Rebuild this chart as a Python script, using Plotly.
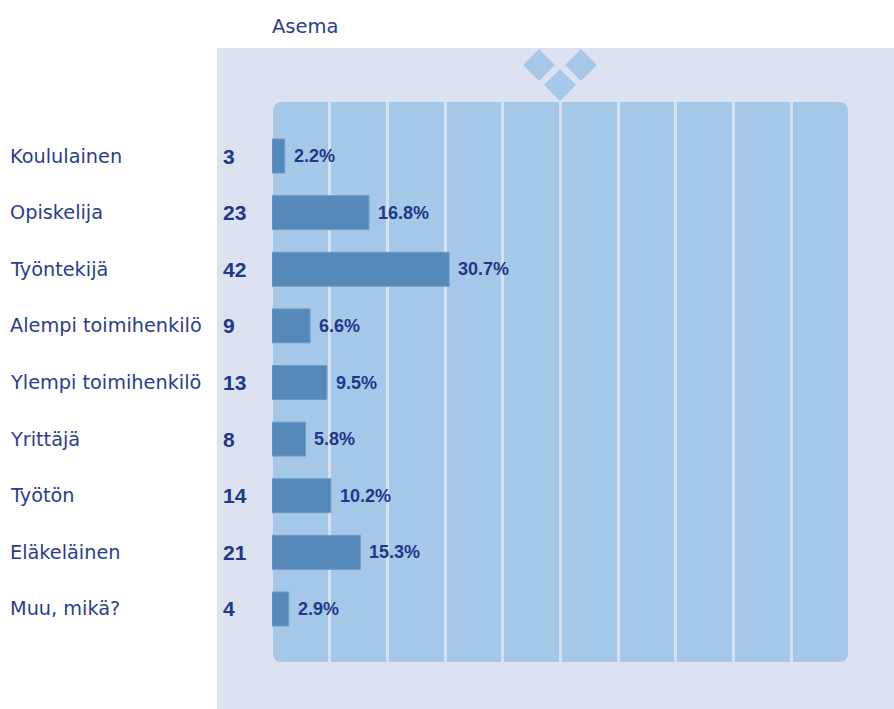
import plotly.graph_objects as go

title = "Asema"
categories = ["Koululainen", "Opiskelija", "Työntekijä", "Alempi toimihenkilö",
              "Ylempi toimihenkilö", "Yrittäjä", "Työtön", "Eläkeläinen", "Muu, mikä?"]
counts = [3, 23, 42, 9, 13, 8, 14, 21, 4]
percents = [2.2, 16.8, 30.7, 6.6, 9.5, 5.8, 10.2, 15.3, 2.9]

W, H = 894, 709
L, R, T, B = 272, 45, 102, 47
PW, PH = W - L - R, H - T - B

def px(x):
    return (x - L) / PW

def py(y):
    return (H - B - y) / PH

TEXT = "#2B3D8E"
BOLD = "#22378A"
BAR = "#5489BA"
INNER = "#A5C8E8"
OUTER = "#DCE2F0"
GRID = "#D5E1F1"

n = len(categories)
ypos = list(range(n))
step = 56.6
yr = [n - 1 + (H - B - 609) / step, -(156 - T) / step]

fig = go.Figure()
fig.add_trace(go.Bar(
    x=percents, y=ypos, orientation="h", width=0.6,
    marker=dict(color=BAR, line=dict(color="#6C9BC9", width=1)),
    hoverinfo="skip", showlegend=False,
))

shapes = []
shapes.append(dict(type="rect", xref="paper", yref="paper",
                   x0=px(217), x1=px(W + 5), y0=py(H + 5), y1=py(48),
                   fillcolor=OUTER, line=dict(width=0), layer="below"))
x0p, x1p, y0p, y1p, r = 273, 848, 102, 662, 9
path = (f"M {px(x0p + r)} {py(y0p)} L {px(x1p - r)} {py(y0p)} "
        f"Q {px(x1p)} {py(y0p)} {px(x1p)} {py(y0p + r)} "
        f"L {px(x1p)} {py(y1p - r)} Q {px(x1p)} {py(y1p)} {px(x1p - r)} {py(y1p)} "
        f"L {px(x0p + r)} {py(y1p)} Q {px(x0p)} {py(y1p)} {px(x0p)} {py(y1p - r)} "
        f"L {px(x0p)} {py(y0p + r)} Q {px(x0p)} {py(y0p)} {px(x0p + r)} {py(y0p)} Z")
shapes.append(dict(type="path", xref="paper", yref="paper", path=path,
                   fillcolor=INNER, line=dict(width=0), layer="below"))
for cx, cy in [(539, 65), (581, 65), (560, 85)]:
    h = 16
    d = (f"M {px(cx - h)} {py(cy)} L {px(cx)} {py(cy - h)} "
         f"L {px(cx + h)} {py(cy)} L {px(cx)} {py(cy + h)} Z")
    shapes.append(dict(type="path", xref="paper", yref="paper", path=d,
                       fillcolor=INNER, line=dict(width=0), layer="below"))

annotations = []
annotations.append(dict(text=title, xref="paper", yref="paper", x=px(270), y=py(26),
                        xanchor="left", yanchor="middle", showarrow=False,
                        font=dict(family="DejaVu Sans", size=19.5, color=TEXT)))
for i, (c, k, p) in enumerate(zip(categories, counts, percents)):
    annotations.append(dict(text=c, xref="paper", yref="y", x=px(8), y=i,
                            xanchor="left", yanchor="middle", showarrow=False,
                            font=dict(family="DejaVu Sans", size=19.3, color=TEXT)))
    annotations.append(dict(text=f"<b>{k}</b>", xref="paper", yref="y", x=px(221), y=i,
                            xanchor="left", yanchor="middle", showarrow=False,
                            font=dict(family="Liberation Sans", size=21, color=BOLD)))
    annotations.append(dict(text=f"<b>{p:.1f}%</b>", xref="x", yref="y", x=p, y=i,
                            xanchor="left", yanchor="middle", showarrow=False, xshift=7,
                            font=dict(family="Liberation Sans", size=18, color=BOLD)))

fig.update_layout(
    width=W, height=H,
    margin=dict(l=L, r=R, t=T, b=B, pad=0),
    paper_bgcolor="white", plot_bgcolor="rgba(0,0,0,0)",
    xaxis=dict(range=[0, 100], dtick=10, showgrid=True, gridcolor=GRID, gridwidth=2.5,
               showticklabels=False, zeroline=False, showline=False, ticks=""),
    yaxis=dict(range=yr, showgrid=False, showticklabels=False, zeroline=False,
               showline=False, ticks=""),
    shapes=shapes, annotations=annotations,
    bargap=0.4,
)
fig.write_html("out.html", config={"displayModeBar": False},
               post_script="document.body.style.margin='0';document.body.style.overflow='hidden';")
